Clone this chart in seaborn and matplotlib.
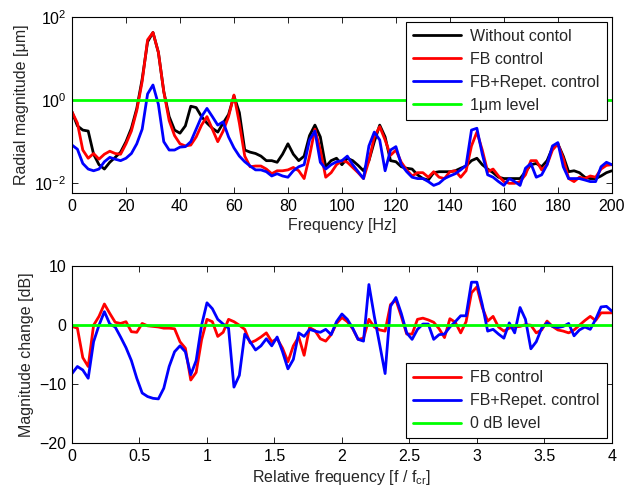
import numpy as np
import pandas as pd
import matplotlib
matplotlib.use("Agg")
import matplotlib.pyplot as plt
import matplotlib.ticker as mticker
import seaborn as sns

# frequency grid (Hz) and relative frequency f / f_cr with f_cr = 50 Hz
freq_hz = np.arange(0, 202, 2)
rel_freq = freq_hz / 50.0

# radial magnitude [um]
without_ctrl = [0.52, 0.24, 0.19, 0.18, 0.050, 0.028, 0.022, 0.032, 0.042, 0.056,
                0.10, 0.21, 0.63, 3.2, 25, 42, 14, 1.6, 0.40, 0.19,
                0.16, 0.24, 0.71, 0.66, 0.40, 0.28, 0.21, 0.17, 0.28, 0.45,
                1.26, 0.50, 0.063, 0.056, 0.052, 0.045, 0.035, 0.035, 0.032, 0.050,
                0.089, 0.050, 0.035, 0.045, 0.14, 0.25, 0.13, 0.025, 0.035, 0.040,
                0.028, 0.040, 0.035, 0.027, 0.020, 0.035, 0.10, 0.25, 0.13, 0.035,
                0.033, 0.025, 0.023, 0.022, 0.016, 0.013, 0.012, 0.018, 0.019, 0.019,
                0.019, 0.020, 0.023, 0.026, 0.035, 0.040, 0.028, 0.022, 0.018, 0.014,
                0.013, 0.013, 0.013, 0.013, 0.019, 0.028, 0.030, 0.025, 0.035, 0.071,
                0.089, 0.045, 0.019, 0.020, 0.018, 0.014, 0.013, 0.013, 0.015, 0.018,
                0.020]
fb_ctrl = [0.52, 0.28, 0.063, 0.040, 0.052, 0.038, 0.050, 0.059, 0.052, 0.050,
           0.089, 0.18, 0.56, 2.8, 28, 42, 14, 1.6, 0.32, 0.14,
           0.089, 0.079, 0.083, 0.13, 0.25, 0.40, 0.20, 0.10, 0.18, 0.40,
           1.32, 0.28, 0.045, 0.025, 0.026, 0.026, 0.022, 0.017, 0.020, 0.020,
           0.021, 0.024, 0.020, 0.013, 0.045, 0.20, 0.063, 0.014, 0.018, 0.028,
           0.035, 0.032, 0.024, 0.018, 0.013, 0.035, 0.13, 0.23, 0.11, 0.047,
           0.063, 0.032, 0.021, 0.015, 0.018, 0.018, 0.014, 0.019, 0.014, 0.013,
           0.019, 0.020, 0.014, 0.020, 0.079, 0.17, 0.063, 0.019, 0.022, 0.015,
           0.011, 0.010, 0.010, 0.011, 0.016, 0.035, 0.035, 0.021, 0.028, 0.063,
           0.089, 0.040, 0.013, 0.011, 0.014, 0.013, 0.015, 0.014, 0.022, 0.027,
           0.028]
fb_rep_ctrl = [0.083, 0.066, 0.030, 0.022, 0.020, 0.022, 0.033, 0.042, 0.038, 0.035,
               0.040, 0.052, 0.089, 0.20, 1.4, 2.3, 0.79, 0.10, 0.063, 0.063,
               0.074, 0.076, 0.10, 0.20, 0.40, 0.63, 0.40, 0.25, 0.30, 0.13,
               0.071, 0.045, 0.033, 0.026, 0.021, 0.021, 0.019, 0.015, 0.017, 0.015,
               0.014, 0.020, 0.025, 0.028, 0.11, 0.18, 0.032, 0.022, 0.028, 0.033,
               0.035, 0.045, 0.028, 0.019, 0.013, 0.079, 0.17, 0.11, 0.020, 0.063,
               0.076, 0.028, 0.019, 0.014, 0.013, 0.013, 0.011, 0.0089, 0.010, 0.013,
               0.015, 0.017, 0.021, 0.027, 0.19, 0.21, 0.050, 0.016, 0.014, 0.011,
               0.0089, 0.013, 0.011, 0.0089, 0.023, 0.030, 0.014, 0.016, 0.028, 0.079,
               0.095, 0.025, 0.013, 0.013, 0.013, 0.012, 0.011, 0.011, 0.025, 0.032,
               0.028]
level_um = [1.0] * len(freq_hz)

# magnitude change [dB]
fb_change_db = [-0.2, -0.5, -5.5, -7.0, 0.0, 1.5, 3.6, 2.0, 0.5, 0.3,
                0.6, -1.1, -1.2, 0.3, -0.1, -0.2, -0.3, -0.5, -0.5, -0.6,
                -2.8, -3.9, -9.3, -8.0, -2.5, 1.0, 0.6, -1.9, -1.2, 1.0,
                0.6, 0.0, -0.7, -3.0, -2.6, -2.0, -1.3, -2.8, -2.3, -3.9,
                -6.2, -3.5, -2.0, -5.1, -0.4, -0.9, -2.3, -2.7, -1.6, 0.3,
                1.3, 0.6, -0.6, -2.4, -2.2, 1.0, -0.3, -0.8, -1.0, 3.5,
                4.3, 1.5, -1.5, -1.5, 1.0, 1.2, 0.9, 0.5, -0.6, -2.1,
                1.1, 0.5, -1.3, 0.6, 5.5, 6.5, 3.0, 0.7, 1.5, -0.3,
                -1.0, -0.5, -0.3, -0.2, 0.1, 0.0, -1.3, -0.8, 0.7, -0.2,
                -0.8, -1.0, -1.3, -0.8, 0.0, 0.8, 1.5, 0.8, 2.1, 2.1,
                2.1]
rep_change_db = [-8.2, -7.0, -7.6, -9.0, -2.8, 0.0, 2.3, 0.2, -0.3, -2.0,
                 -3.8, -6.0, -9.0, -11.5, -12.1, -12.4, -12.5, -10.7, -7.0, -4.5,
                 -3.5, -4.5, -8.4, -6.0, 0.0, 3.8, 2.8, 1.0, 0.2, -0.5,
                 -10.5, -8.5, -1.5, -2.8, -4.2, -3.5, -2.3, -3.5, -2.0, -4.5,
                 -7.4, -5.8, -1.3, -1.9, -0.7, -1.0, -1.2, -0.7, -1.6, 0.6,
                 1.9, 1.0, -0.5, -2.4, -2.7, 6.9, 1.5, -3.3, -8.2, 3.2,
                 4.7, 2.0, -1.3, -2.4, -0.7, 0.2, 0.2, -2.4, -1.6, -1.5,
                 -0.3, 0.6, 1.6, 1.6, 7.3, 7.3, 3.5, -1.0, -0.7, -1.5,
                 -2.2, 0.4, -1.3, 3.0, 1.0, -4.0, -2.8, -0.5, 0.4, -0.2,
                 -0.4, -0.2, 0.3, -1.8, -0.8, -0.3, -0.7, 1.0, 3.1, 3.2,
                 2.4]
level_db = [0.0] * len(freq_hz)

sns.set_style("ticks")
plt.rcParams['font.family'] = ['Liberation Sans', 'DejaVu Sans']
plt.rcParams['mathtext.fontset'] = 'custom'
plt.rcParams['mathtext.rm'] = 'Liberation Sans'
plt.rcParams['mathtext.it'] = 'Liberation Sans:italic'
plt.rcParams['font.size'] = 11.5

fig = plt.figure(figsize=(6.4, 4.94), dpi=100)
ax1 = fig.add_axes([0.1125, 0.609, 0.8435, 0.357])
ax2 = fig.add_axes([0.1125, 0.103, 0.8435, 0.358])

lw = 2.0

# ============================================
# TOP: RADIAL MAGNITUDE
# ============================================
sns.lineplot(x=freq_hz, y=without_ctrl, color='black', lw=lw, label='Without contol', ax=ax1)
sns.lineplot(x=freq_hz, y=fb_ctrl, color='#ff0000', lw=lw, label='FB control', ax=ax1)
sns.lineplot(x=freq_hz, y=fb_rep_ctrl, color='#0000ff', lw=lw, label='FB+Repet. control', ax=ax1)
sns.lineplot(x=freq_hz, y=level_um, color='#00ff00', lw=lw, label='1\u03bcm level', ax=ax1)
ax1.set_yscale('log')
ax1.set_xlim(0, 200)
ax1.set_ylim(0.0058, 100)
ax1.set_xticks(np.arange(0, 201, 20))
ax1.set_yticks([1e-2, 1e0, 1e2])
ax1.yaxis.set_minor_locator(mticker.NullLocator())
ax1.set_xlabel('Frequency [Hz]', labelpad=3)
ax1.set_ylabel('Radial magnitude [\u03bcm]')

# ============================================
# BOTTOM: MAGNITUDE CHANGE
# ============================================
sns.lineplot(x=rel_freq, y=fb_change_db, color='#ff0000', lw=lw, label='FB control', ax=ax2)
sns.lineplot(x=rel_freq, y=rep_change_db, color='#0000ff', lw=lw, label='FB+Repet. control', ax=ax2)
sns.lineplot(x=rel_freq, y=level_db, color='#00ff00', lw=lw, label='0 dB level', ax=ax2)
ax2.set_xlim(0, 4)
ax2.set_ylim(-20, 10)
ax2.set_xticks(np.arange(0, 4.01, 0.5))
ax2.set_yticks([-20, -10, 0, 10])
ax2.xaxis.set_major_formatter(mticker.FormatStrFormatter('%g'))
ax2.set_xlabel('Relative frequency [f / f$_\\mathrm{cr}$]', labelpad=3)
ax2.set_ylabel('Magnitude change [dB]')

for ax, loc in [(ax1, 'upper right'), (ax2, 'lower right')]:
    for s in ax.spines.values():
        s.set_linewidth(0.8)
        s.set_color('black')
    ax.tick_params(direction='in', top=True, right=True, length=4, width=0.6,
                   labelsize=11.5, colors='black', pad=4)
    leg = ax.legend(loc=loc, fancybox=False, framealpha=1, edgecolor='black',
                    handlelength=3.0, fontsize=11.5, borderaxespad=0.3,
                    labelspacing=0.5, handletextpad=0.6, borderpad=0.45)
    leg.get_frame().set_linewidth(0.8)

fig.savefig('out.png', dpi=100)
